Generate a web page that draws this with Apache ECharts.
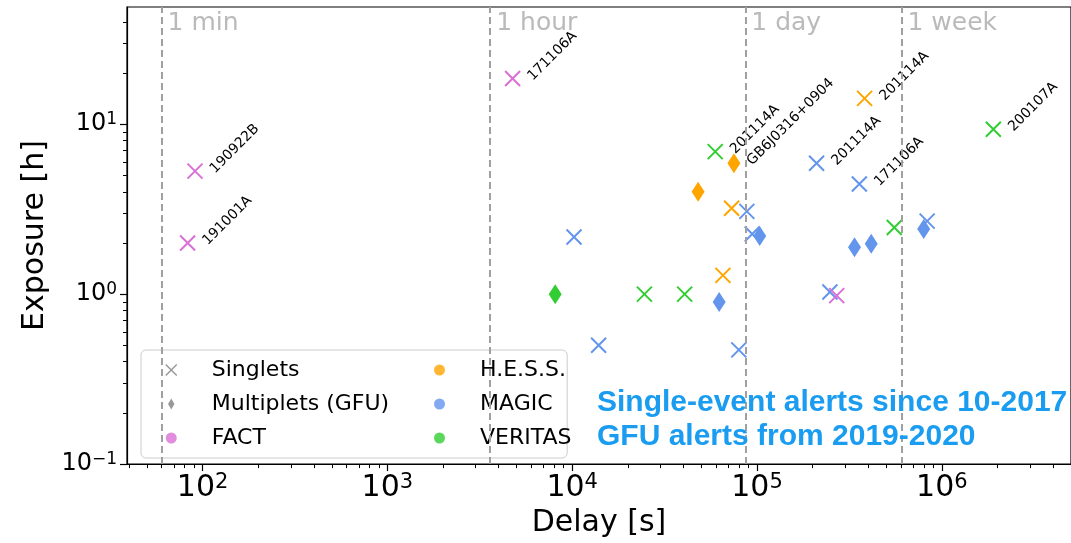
<!DOCTYPE html>
<html>
<head>
<meta charset="utf-8">
<script src="https://cdn.jsdelivr.net/npm/echarts@6/dist/echarts.min.js"></script>
<style>html,body{margin:0;padding:0;background:#fff}#c{width:1071px;height:543px}</style>
</head>
<body>
<div id="c"></div>
<script>
// ---- data: [delay (s), exposure (h), label] ----
const FACT_SINGLETS = [[91, 5.3, '190922B'], [83, 2.0, '191001A'], [4760, 18.6, '171106A'], [270000, 0.98, '']];
const HESS_SINGLETS = [[382000, 14.2, '201114A'], [72900, 3.2, ''], [65400, 1.29, '']];
const HESS_MULTIPLETS = [[75000, 5.9, 'GB6J0316+0904'], [48000, 4.0, '']];
const MAGIC_SINGLETS = [[210000, 5.9, '201114A'], [358000, 4.45, '171106A'], [88100, 3.07, ''], [94200, 2.26, ''],
  [10230, 2.17, ''], [833000, 2.69, ''], [248000, 1.03, ''], [13900, 0.5, ''], [79700, 0.47, '']];
const MAGIC_MULTIPLETS = [[103400, 2.2, ''], [337000, 1.89, ''], [415000, 1.98, ''], [798000, 2.42, ''], [62400, 0.9, '']];
const VERITAS_SINGLETS = [[1900000, 9.35, '200107A'], [59400, 6.9, '201114A'], [553000, 2.47, ''], [24600, 1.0, ''], [40600, 1.0, '']];
const VERITAS_MULTIPLETS = [[8090, 1.0, '']];

const TIMESCALES = [[60, '1 min'], [3600, '1 hour'], [86400, '1 day'], [604800, '1 week']];
const TIMESCALE_LABEL_Y = 39;

const X_TICKS = [100, 1000, 10000, 100000, 1000000];
const Y_TICKS = [0.1, 1, 10];
const X_RANGE = [39, 5.0e6];
const Y_RANGE = [0.0999, 49];

const ANNOTATION = 'Single-event alerts since 10-2017\nGFU alerts from 2019-2020';

const COLORS = { FACT: '#da70d6', HESS: '#ffa500', MAGIC: '#6495ed', VERITAS: '#32cd32' };

// minor ticks 2..9 x 10^n inside range
function minorTicks(range) {
  const out = [];
  for (let e = -2; e <= 7; e++) {
    for (let m = 2; m <= 9; m++) {
      const v = m * Math.pow(10, e);
      if (v > range[0] && v < range[1]) out.push(v);
    }
  }
  return out;
}

const XPATH = 'path://M0,0L10,10M0,10L10,0';
const FONT = 'DejaVu Sans';

function powLabel(v) {
  const e = Math.round(Math.log10(v));
  return '{b|10}{s|' + (e < 0 ? '\u2212' + (-e) : e) + '}';
}

function dataSeries(name, data, color, multiplet) {
  return {
    type: 'scatter', name: name, data: data,
    symbol: multiplet ? 'diamond' : XPATH,
    symbolSize: multiplet ? [13, 20] : 15,
    itemStyle: multiplet ? { color: color, opacity: 1 } :
      { color: 'rgba(0,0,0,0)', borderColor: color, borderWidth: 2, opacity: 1 },
    label: {
      show: true, position: 'right', distance: 9, rotate: 45,
      formatter: p => p.data[2] || '',
      fontFamily: FONT, fontSize: 14, color: '#000'
    },
    emphasis: { disabled: true },
    z: 3
  };
}
function legendSeries(name, color) {
  return { type: 'scatter', name: name, data: [], itemStyle: { color: color } };
}

const chart = echarts.init(document.getElementById('c'), null, { renderer: 'canvas' });

const lblStyleX = { fontFamily: FONT, color: '#000', rich: { b: { fontSize: 30, fontFamily: FONT, lineHeight: 32 }, s: { fontSize: 21, fontFamily: FONT, verticalAlign: 'top' } } };
const lblStyleY = { fontFamily: FONT, color: '#000', rich: { b: { fontSize: 24, fontFamily: FONT, lineHeight: 26 }, s: { fontSize: 17, fontFamily: FONT, verticalAlign: 'top' } } };

const option = {
  animation: false,
  backgroundColor: '#fff',
  grid: { left: 127, top: 7, right: -2, bottom: 76, show: true, borderColor: '#000', borderWidth: 1.2, backgroundColor: 'transparent' },
  title: {
    text: ANNOTATION, left: 597, top: 386, padding: 0,
    textStyle: { fontFamily: 'Liberation Sans', fontSize: 30, fontWeight: 'bold', color: '#1a9cf0', lineHeight: 33.5 }
  },
  xAxis: [
    {
      type: 'log', min: X_RANGE[0], max: X_RANGE[1], position: 'bottom',
      name: 'Delay [s]', nameLocation: 'middle', nameGap: 39,
      nameTextStyle: { fontFamily: FONT, fontSize: 30, color: '#000' },
      axisLine: { lineStyle: { color: '#000', width: 1.2 } },
      axisTick: { show: true, length: 7, customValues: X_TICKS, lineStyle: { color: '#000', width: 1.2 } },
      axisLabel: Object.assign({ margin: 8, customValues: X_TICKS, formatter: powLabel }, lblStyleX),
      splitLine: { show: false }, minorTick: { show: false }
    },
    {
      type: 'log', min: X_RANGE[0], max: X_RANGE[1], position: 'bottom',
      axisLine: { show: false },
      axisTick: { show: true, length: 4, customValues: minorTicks(X_RANGE), lineStyle: { color: '#000', width: 1 } },
      axisLabel: { show: false }, splitLine: { show: false }
    }
  ],
  yAxis: [
    {
      type: 'log', min: Y_RANGE[0], max: Y_RANGE[1], position: 'left',
      name: 'Exposure [h]', nameLocation: 'middle', nameGap: 64,
      nameTextStyle: { fontFamily: FONT, fontSize: 30, color: '#000' },
      axisLine: { lineStyle: { color: '#000', width: 1.2 } },
      axisTick: { show: true, length: 7, customValues: Y_TICKS, lineStyle: { color: '#000', width: 1.2 } },
      axisLabel: Object.assign({ margin: 10, customValues: Y_TICKS, formatter: powLabel }, lblStyleY),
      splitLine: { show: false }
    },
    {
      type: 'log', min: Y_RANGE[0], max: Y_RANGE[1], position: 'left',
      axisLine: { show: false },
      axisTick: { show: true, length: 4, customValues: minorTicks(Y_RANGE), lineStyle: { color: '#000', width: 1 } },
      axisLabel: { show: false }, splitLine: { show: false }
    }
  ],
  legend: [
    {
      left: 141, top: 350, orient: 'vertical', padding: [8, 178, 8, 24],
      itemWidth: 11, itemHeight: 11, itemGap: 10, selectedMode: false,
      backgroundColor: 'rgba(255,255,255,0.8)', borderColor: '#cccccc', borderWidth: 1, borderRadius: 5,
      textStyle: { fontFamily: FONT, fontSize: 22, color: '#000', lineHeight: 24, padding: [0, 0, 0, 30] },
      data: [
        { name: 'Singlets', icon: XPATH, itemStyle: { color: 'rgba(0,0,0,0)', borderColor: '#808080', borderWidth: 1.5 } },
        { name: 'Multiplets (GFU)', icon: 'path://M6,0L9.5,6L6,12L2.5,6Z', itemStyle: { color: '#808080', borderWidth: 0 } },
        { name: 'FACT', icon: 'circle', itemStyle: { color: COLORS.FACT, borderWidth: 0 } }
      ]
    },
    {
      left: 434, top: 358, orient: 'vertical', padding: 0,
      itemWidth: 11, itemHeight: 11, itemGap: 10, selectedMode: false,
      textStyle: { fontFamily: FONT, fontSize: 22, color: '#000', lineHeight: 24, padding: [0, 0, 0, 30] },
      data: [
        { name: 'H.E.S.S.', icon: 'circle', itemStyle: { color: COLORS.HESS, borderWidth: 0 } },
        { name: 'MAGIC', icon: 'circle', itemStyle: { color: COLORS.MAGIC, borderWidth: 0 } },
        { name: 'VERITAS', icon: 'circle', itemStyle: { color: COLORS.VERITAS, borderWidth: 0 } }
      ]
    }
  ],
  series: [
    {
      type: 'scatter', name: 'timescales', symbolSize: 0, silent: true,
      data: TIMESCALES.map(t => [t[0], TIMESCALE_LABEL_Y, t[1]]),
      label: { show: true, position: 'right', distance: 6, formatter: p => p.data[2], fontFamily: FONT, fontSize: 25, color: '#a9a9a9' },
      markLine: {
        silent: true, symbol: 'none', animation: false,
        lineStyle: { type: [7, 4], color: '#a0a0a0', width: 2 },
        label: { show: false },
        data: TIMESCALES.map(t => ({ xAxis: t[0] }))
      },
      z: 1
    },
    legendSeries('Singlets', '#808080'),
    legendSeries('Multiplets (GFU)', '#808080'),
    legendSeries('FACT', COLORS.FACT),
    legendSeries('H.E.S.S.', COLORS.HESS),
    legendSeries('MAGIC', COLORS.MAGIC),
    legendSeries('VERITAS', COLORS.VERITAS),
    dataSeries('VERITAS singlets', VERITAS_SINGLETS, COLORS.VERITAS, false),
    dataSeries('VERITAS multiplets', VERITAS_MULTIPLETS, COLORS.VERITAS, true),
    dataSeries('H.E.S.S. singlets', HESS_SINGLETS, COLORS.HESS, false),
    dataSeries('H.E.S.S. multiplets', HESS_MULTIPLETS, COLORS.HESS, true),
    dataSeries('MAGIC singlets', MAGIC_SINGLETS, COLORS.MAGIC, false),
    dataSeries('MAGIC multiplets', MAGIC_MULTIPLETS, COLORS.MAGIC, true),
    dataSeries('FACT singlets', FACT_SINGLETS, COLORS.FACT, false)
  ]
};
chart.setOption(option);
</script>
</body>
</html>
